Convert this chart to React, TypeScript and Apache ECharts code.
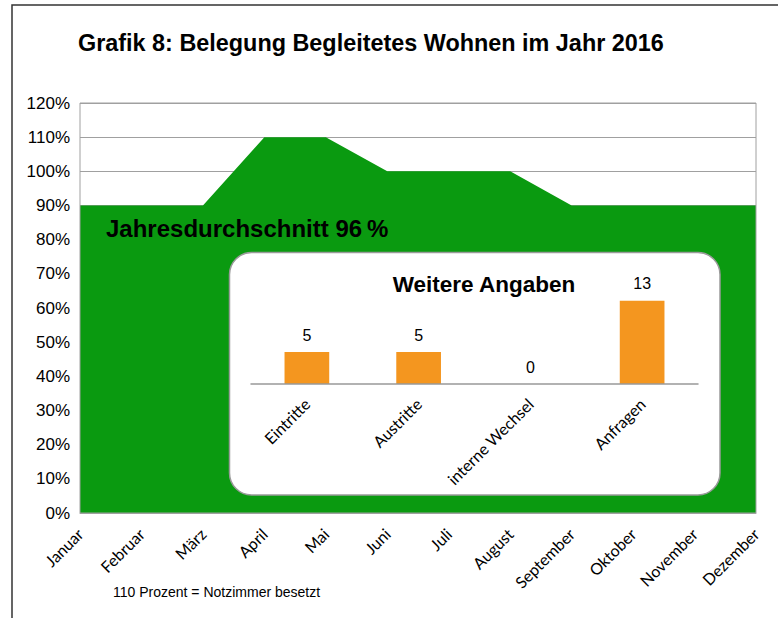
import React, { useEffect, useRef } from "react";
import * as echarts from "echarts";

const months = ["Januar", "Februar", "März", "April", "Mai", "Juni", "Juli", "August", "September", "Oktober", "November", "Dezember"];
const occupancy = [90, 90, 90, 110, 110, 100, 100, 100, 90, 90, 90, 90];
const extraCategories = ["Eintritte", "Austritte", "interne Wechsel", "Anfragen"];
const extraValues = [5, 5, 0, 13];

const titleText = "Grafik 8: Belegung Begleitetes Wohnen im Jahr 2016";
const averageText = "Jahresdurchschnitt 96\u2009%";
const insetTitle = "Weitere Angaben";
const footnote = "110 Prozent = Notzimmer besetzt";

const GREEN = "#0a9a10";
const ORANGE = "#f4961f";
const SANS = "'Liberation Sans', Arial, Helvetica, sans-serif";
const LABELFONT = "Lato, 'Open Sans', sans-serif";

export default function App() {
  const ref = useRef<HTMLDivElement>(null);
  useEffect(() => {
    if (!ref.current) return;
    const chart = echarts.init(ref.current, undefined, { renderer: "svg" });
    chart.setOption({
      animation: false,
      backgroundColor: "#ffffff",
      grid: [
        { left: 80, right: 22, top: 103, bottom: 105, show: true, borderColor: "#a0a0a0", borderWidth: 1, backgroundColor: "transparent", z: 3 },
        { left: 251, right: 80, top: 288, bottom: 234 },
      ],
      xAxis: [
        {
          type: "category",
          gridIndex: 0,
          data: months,
          boundaryGap: false,
          axisLine: { show: true, lineStyle: { color: "#a0a0a0", width: 1 } },
          axisTick: { show: false },
          axisLabel: { interval: 0, rotate: 45, fontFamily: LABELFONT, fontSize: 16, color: "#000", margin: 18 },
          splitLine: { show: false },
          z: 3,
        },
        {
          type: "category",
          gridIndex: 1,
          data: extraCategories,
          axisLine: { show: true, lineStyle: { color: "#999", width: 1.5 } },
          axisTick: { show: false },
          axisLabel: { interval: 0, rotate: 45, fontFamily: LABELFONT, fontSize: 16, color: "#000", margin: 17 },
          z: 6,
        },
      ],
      yAxis: [
        {
          type: "value",
          gridIndex: 0,
          min: 0,
          max: 120,
          interval: 10,
          axisLine: { show: false },
          axisTick: { show: false },
          axisLabel: { formatter: "{value}%", fontFamily: SANS, fontSize: 17, color: "#000", margin: 10 },
          splitLine: { show: true, lineStyle: { color: "#a0a0a0", width: 1 } },
        },
        {
          type: "value",
          gridIndex: 1,
          min: 0,
          max: 15,
          show: false,
          splitLine: { show: false },
        },
      ],
      series: [
        {
          type: "line",
          xAxisIndex: 0,
          yAxisIndex: 0,
          data: occupancy,
          symbol: "none",
          lineStyle: { width: 0, color: GREEN },
          areaStyle: { color: GREEN, opacity: 1 },
          z: 2,
        },
        {
          type: "bar",
          xAxisIndex: 1,
          yAxisIndex: 1,
          data: extraValues,
          barWidth: "40%",
          itemStyle: { color: ORANGE },
          label: { show: true, position: "top", distance: 9, fontFamily: SANS, fontSize: 16, color: "#000" },
          z: 5,
        },
      ],
      graphic: [
        {
          type: "rect",
          shape: { x: 12, y: 5, width: 900, height: 900 },
          style: { fill: "none", stroke: "#333", lineWidth: 1.5 },
          z: 1,
        },
        {
          type: "rect",
          shape: { x: 229.5, y: 252.5, width: 490.5, height: 242.5, r: 22 },
          style: { fill: "#ffffff", stroke: "#9a9a9a", lineWidth: 1.5 },
          z: 4,
        },
        {
          type: "text",
          x: 78,
          y: 43,
          style: { text: titleText, font: `bold 23.4px ${SANS}`, fill: "#000", verticalAlign: "middle", align: "left" },
          z: 10,
        },
        {
          type: "text",
          x: 106,
          y: 228,
          style: { text: averageText, font: `bold 24px ${SANS}`, fill: "#000", verticalAlign: "middle", align: "left" },
          z: 10,
        },
        {
          type: "text",
          x: 484,
          y: 284,
          style: { text: insetTitle, font: `bold 22.5px ${SANS}`, fill: "#000", verticalAlign: "middle", align: "center" },
          z: 10,
        },
        {
          type: "text",
          x: 113,
          y: 592,
          style: { text: footnote, font: `14px ${SANS}`, fill: "#000", verticalAlign: "middle", align: "left" },
          z: 10,
        },
      ],
    });
    return () => chart.dispose();
  }, []);
  return <div ref={ref} style={{ position: "fixed", left: 0, top: 0, width: 778, height: 618 }} />;
}
